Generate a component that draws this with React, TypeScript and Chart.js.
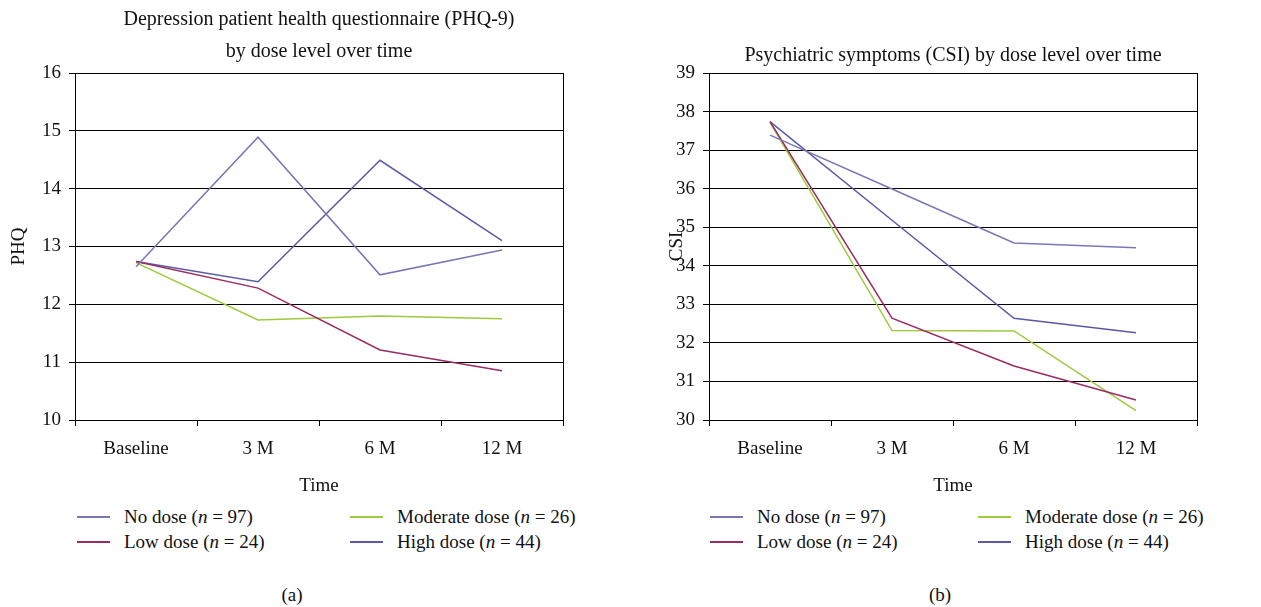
import React, { useEffect, useRef } from 'react';
import { Chart, registerables } from 'chart.js';

Chart.register(...registerables);

const categories = ['Baseline', '3 M', '6 M', '12 M'];
const seriesNames = ['No dose', 'Low dose', 'Moderate dose', 'High dose'];
const seriesN = [97, 24, 26, 44];
const seriesColors = ['#7878b6', '#9b2b63', '#9ccb3b', '#5a5aa6'];

const phqNoDose = [12.65, 14.89, 12.51, 12.94];
const phqLowDose = [12.74, 12.28, 11.21, 10.85];
const phqModerateDose = [12.72, 11.73, 11.8, 11.75];
const phqHighDose = [12.74, 12.39, 14.49, 13.1];
const phqRange = [10, 16];

const csiNoDose = [37.39, 35.99, 34.59, 34.47];
const csiLowDose = [37.74, 32.64, 31.4, 30.52];
const csiModerateDose = [37.72, 32.32, 32.31, 30.24];
const csiHighDose = [37.74, 35.18, 32.64, 32.26];
const csiRange = [30, 39];

const FONT = "'Liberation Serif', 'Times New Roman', serif";
const TEXT = '#111';

const rightBorder = {
  id: 'rightBorder',
  afterDraw(chart: any) {
    const { ctx, chartArea } = chart;
    ctx.save();
    ctx.strokeStyle = '#000';
    ctx.lineWidth = 1;
    const x = Math.round(chartArea.right) + 0.5;
    ctx.beginPath();
    ctx.moveTo(x, chartArea.top);
    ctx.lineTo(x, chartArea.bottom);
    ctx.stroke();
    ctx.restore();
  },
};

type PanelProps = {
  left: number;
  width: number;
  yWidth: number;
  padRight: number;
  title: string[];
  titlePad: { top: number; bottom: number };
  yTitle: string;
  yTitlePad: number;
  values: number[][];
  range: number[];
  legendLeft: number;
  legendCol2: number;
  legendRows: number[];
  caption: string;
  captionX: number;
};

function Panel(p: PanelProps) {
  const ref = useRef<HTMLCanvasElement | null>(null);
  useEffect(() => {
    if (!ref.current) return;
    const chart = new Chart(ref.current, {
      type: 'line',
      data: {
        labels: categories,
        datasets: p.values.map((v, i) => ({
          label: seriesNames[i],
          data: v,
          borderColor: seriesColors[i],
          backgroundColor: seriesColors[i],
          borderWidth: 1.5,
          pointRadius: 0,
          tension: 0,
          fill: false,
        })),
      },
      options: {
        animation: false,
        responsive: false,
        maintainAspectRatio: false,
        layout: { padding: { left: 0, right: p.padRight, top: 0, bottom: 0 } },
        plugins: {
          legend: { display: false },
          tooltip: { enabled: false },
          title: {
            display: true,
            text: p.title,
            fullSize: false,
            color: TEXT,
            font: { family: FONT, size: 20, weight: 'normal', lineHeight: 1.6 },
            padding: p.titlePad,
          },
        },
        scales: {
          x: {
            type: 'category',
            offset: true,
            grid: { offset: true, drawOnChartArea: false, drawTicks: true, tickLength: 6, color: '#000', lineWidth: 1 },
            border: { display: true, color: '#000', width: 1 },
            ticks: { color: TEXT, font: { family: FONT, size: 19 }, padding: 12, maxRotation: 0, autoSkip: false },
            title: { display: true, text: 'Time', color: TEXT, font: { family: FONT, size: 19 }, padding: { top: 0, bottom: 3 } },
            afterFit: (s: any) => { s.height = 80; },
          },
          y: {
            min: p.range[0],
            max: p.range[1],
            grid: { color: '#000', lineWidth: 1, drawTicks: true, tickLength: 6 },
            border: { display: true, color: '#000', width: 1 },
            ticks: { stepSize: 1, color: TEXT, font: { family: FONT, size: 19 }, padding: 8 },
            title: { display: true, text: p.yTitle, color: TEXT, font: { family: FONT, size: 19 }, padding: { top: p.yTitlePad, bottom: 0 } },
            afterFit: (s: any) => { s.width = p.yWidth; },
          },
        },
      } as any,
      plugins: [rightBorder],
    });
    return () => chart.destroy();
  }, []);

  const order = [[0, 1], [2, 3]];
  const textStyle: React.CSSProperties = { fontFamily: FONT, fontSize: 19, color: TEXT, whiteSpace: 'nowrap' };

  return (
    <div style={{ position: 'absolute', left: p.left, top: 0, width: p.width, height: 607 }}>
      <canvas ref={ref} width={p.width} height={500} style={{ position: 'absolute', left: 0, top: 0, width: p.width, height: 500 }} />
      {order.map((col, ci) =>
        col.map((si, ri) => {
          const x = (ci === 0 ? p.legendLeft : p.legendCol2) - p.left;
          const y = p.legendRows[ri];
          return (
            <div key={si} style={{ position: 'absolute', left: x, top: y - 12, height: 24, display: 'flex', alignItems: 'center' }}>
              <div style={{ width: 33, height: 1.5, background: seriesColors[si], marginRight: 14 }} />
              <span style={textStyle}>
                {seriesNames[si]} (<i>n</i> = {seriesN[si]})
              </span>
            </div>
          );
        })
      )}
      <div style={{ ...textStyle, position: 'absolute', left: p.captionX - p.left - 50, width: 100, textAlign: 'center', top: 583, lineHeight: '24px' }}>
        {p.caption}
      </div>
    </div>
  );
}

export default function App() {
  return (
    <div style={{ position: 'fixed', left: 0, top: 0, width: 1261, height: 607, background: '#fff', overflow: 'hidden' }}>
      <Panel
        left={0}
        width={630}
        yWidth={75}
        padRight={67}
        title={['Depression patient health questionnaire (PHQ-9)', 'by dose level over time']}
        titlePad={{ top: 4, bottom: 5 }}
        yTitle="PHQ"
        yTitlePad={8}
        values={[phqNoDose, phqLowDose, phqModerateDose, phqHighDose]}
        range={phqRange}
        legendLeft={77}
        legendCol2={350}
        legendRows={[517, 542]}
        caption="(a)"
        captionX={292}
      />
      <Panel
        left={630}
        width={631}
        yWidth={79}
        padRight={64}
        title={['Psychiatric symptoms (CSI) by dose level over time']}
        titlePad={{ top: 40, bottom: 1 }}
        yTitle="CSI"
        yTitlePad={36}
        values={[csiNoDose, csiLowDose, csiModerateDose, csiHighDose]}
        range={csiRange}
        legendLeft={710}
        legendCol2={978}
        legendRows={[517, 542]}
        caption="(b)"
        captionX={940}
      />
    </div>
  );
}
